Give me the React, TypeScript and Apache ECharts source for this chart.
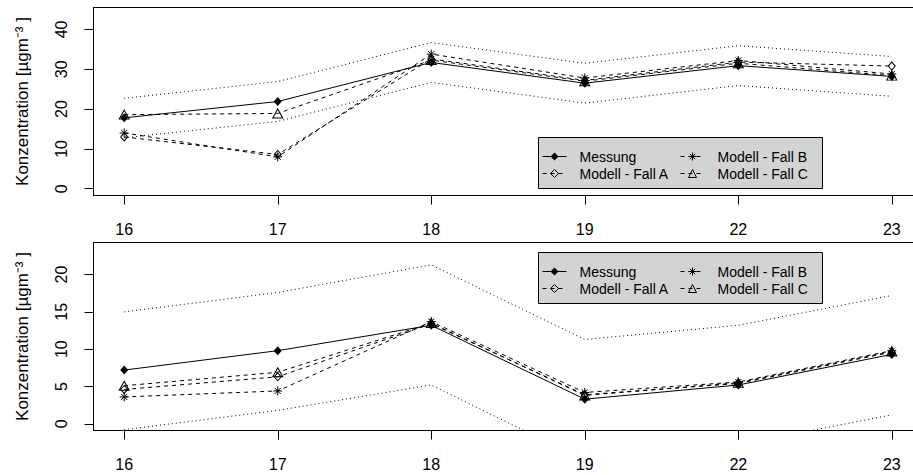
import React, { useEffect, useRef } from 'react';
import * as echarts from 'echarts';

// ---- data ----
const categories = ['16', '17', '18', '19', '22', '23'];
const xPositions = [1, 2, 3, 4, 5, 6];

const topMessung = [17.8, 21.9, 31.7, 26.5, 30.9, 28.2];
const topFallA = [13.0, 8.6, 32.6, 27.2, 31.8, 30.8];
const topFallB = [14.0, 8.0, 33.8, 27.8, 32.2, 28.8];
const topFallC = [18.6, 18.9, 32.3, 27.0, 31.5, 28.4];
const topUpper = [22.7, 26.9, 36.7, 31.5, 35.9, 33.2];
const topLower = [12.8, 16.9, 26.7, 21.5, 25.9, 23.2];

const bottomMessung = [7.2, 9.8, 13.2, 3.3, 5.2, 9.3];
const bottomFallA = [4.6, 6.3, 13.4, 3.9, 5.4, 9.6];
const bottomFallB = [3.6, 4.4, 13.7, 4.2, 5.6, 9.8];
const bottomFallC = [5.1, 6.9, 13.5, 3.8, 5.5, 9.7];
const bottomUpper = [15.0, 17.6, 21.3, 11.3, 13.2, 17.2];
const bottomLower = [-0.8, 1.8, 5.2, -4.9, -2.8, 1.2];

const topTicks = [0, 10, 20, 30, 40];
const bottomTicks = [0, 5, 10, 15, 20];

const seriesNames = ['Messung', 'Modell - Fall A', 'Modell - Fall B', 'Modell - Fall C'];
const yTitle = 'Konzentration [µgm⁻³ ]';

const FONT = "'Liberation Sans', Arial, Helvetica, sans-serif";
const ASTERISK = 'path://M5,0L5,10M0,5L10,5M1.6,1.6L8.4,8.4M1.6,8.4L8.4,1.6';

const pts = (vals: number[]) => vals.map((v, i) => [xPositions[i], v]);

function markerSeries(kind: number, vals: number[], gi: number) {
  const base: any = {
    type: 'line',
    name: seriesNames[kind],
    xAxisIndex: gi,
    yAxisIndex: gi,
    data: pts(vals),
    silent: true,
    clip: true,
    showSymbol: true,
    lineStyle: { color: '#000', width: 1, type: kind === 0 ? 'solid' : [4, 4] },
  };
  if (kind === 0) {
    base.symbol = 'diamond';
    base.symbolSize = [8, 9];
    base.itemStyle = { color: '#000' };
  } else if (kind === 1) {
    base.symbol = 'diamond';
    base.symbolSize = [7, 8];
    base.itemStyle = { color: 'transparent', borderColor: '#000', borderWidth: 1 };
  } else if (kind === 2) {
    base.symbol = ASTERISK;
    base.symbolSize = 9;
    base.itemStyle = { color: '#000', borderColor: '#000', borderWidth: 1 };
  } else {
    base.symbol = 'triangle';
    base.symbolSize = [10, 9];
    base.itemStyle = { color: 'transparent', borderColor: '#000', borderWidth: 1 };
  }
  return base;
}

function dottedSeries(vals: number[], gi: number) {
  return {
    type: 'line',
    name: 'band',
    xAxisIndex: gi,
    yAxisIndex: gi,
    data: pts(vals),
    silent: true,
    clip: true,
    symbol: 'none',
    lineStyle: { color: '#000', width: 1, type: [1, 3] },
  };
}

// x-axis tick marks, placed through the axis scale (api.coord)
function xTickSeries(gi: number) {
  return {
    type: 'custom',
    name: 'xticks',
    xAxisIndex: gi,
    yAxisIndex: gi,
    silent: true,
    clip: false,
    z: 5,
    data: xPositions.map((v) => [v, 0]),
    encode: { x: 0, y: 1 },
    renderItem: (params: any, api: any) => {
      const p = api.coord([api.value(0), api.value(1)]);
      const cs = params.coordSys;
      const x = Math.round(p[0]) + 0.5;
      const y = cs.y + cs.height;
      return {
        type: 'line',
        shape: { x1: x, y1: y, x2: x, y2: y + 9 },
        style: { stroke: '#000', lineWidth: 1 },
      };
    },
  };
}

function xAxisCfg(gi: number) {
  return {
    type: 'value',
    gridIndex: gi,
    min: 0.8,
    max: 6.2,
    axisLine: { show: true, onZero: false, lineStyle: { color: '#000', width: 1 } },
    splitLine: { show: false },
    axisTick: { show: false },
    axisLabel: {
      show: true,
      customValues: [...xPositions],
      formatter: (v: number) => categories[Math.round(v) - 1] ?? '',
      margin: 26,
      color: '#000',
      fontFamily: FONT,
      fontSize: 16,
    },
  };
}

function yAxisCfg(gi: number, min: number, max: number, ticks: number[]) {
  return {
    type: 'value',
    gridIndex: gi,
    min,
    max,
    axisLine: { show: true, onZero: false, lineStyle: { color: '#000', width: 1 } },
    splitLine: { show: false },
    axisTick: { show: true, length: 9, customValues: [...ticks], lineStyle: { color: '#000', width: 1 } },
    axisLabel: {
      show: true,
      customValues: [...ticks],
      rotate: 90,
      margin: 24,
      color: '#000',
      fontFamily: FONT,
      fontSize: 16,
    },
    name: yTitle,
    nameLocation: 'middle',
    nameGap: 63,
    nameRotate: 90,
    nameTextStyle: { color: '#000', fontFamily: FONT, fontSize: 17 },
  };
}

function legendCfg(left: number, top: number, names: string[]) {
  return {
    show: true,
    left,
    top,
    orient: 'vertical',
    data: names,
    padding: 0,
    itemGap: 1,
    itemWidth: 24,
    itemHeight: 10,
    selectedMode: false,
    z: 20,
    itemStyle: { borderWidth: 1 },
    lineStyle: { width: 1 },
    textStyle: { fontFamily: FONT, fontSize: 14, color: '#000', lineHeight: 16, padding: [0, 0, 0, 8] },
  };
}

export default function App() {
  const ref = useRef<HTMLDivElement>(null);
  useEffect(() => {
    document.body.style.margin = '0';
    if (!ref.current) return;
    const chart = echarts.init(ref.current, undefined, { renderer: 'svg' });
    const gridBase = {
      show: true,
      borderColor: '#000',
      borderWidth: 1,
      backgroundColor: 'transparent',
      containLabel: false,
      outerBoundsMode: 'none',
    };
    chart.setOption({
      animation: false,
      backgroundColor: '#fff',
      grid: [
        { ...gridBase, left: 93.5, top: 7.5, width: 829, height: 188 },
        { ...gridBase, left: 93.5, top: 242.5, width: 829, height: 188 },
      ],
      xAxis: [xAxisCfg(0), xAxisCfg(1)],
      yAxis: [yAxisCfg(0, -1.7, 45.5, topTicks), yAxisCfg(1, -0.9, 24.3, bottomTicks)],
      legend: [
        legendCfg(542, 148.5, [seriesNames[0], seriesNames[1]]),
        legendCfg(680, 148.5, [seriesNames[2], seriesNames[3]]),
        legendCfg(542, 263.5, [seriesNames[0], seriesNames[1]]),
        legendCfg(680, 263.5, [seriesNames[2], seriesNames[3]]),
      ],
      graphic: [
        { type: 'rect', z: 15, shape: { x: 538.5, y: 137.5, width: 284, height: 51 }, style: { fill: '#d3d3d3', stroke: '#000', lineWidth: 1 } },
        { type: 'rect', z: 15, shape: { x: 538.5, y: 252.5, width: 284, height: 51 }, style: { fill: '#d3d3d3', stroke: '#000', lineWidth: 1 } },
      ],
      series: [
        xTickSeries(0),
        xTickSeries(1),
        dottedSeries(topUpper, 0),
        dottedSeries(topLower, 0),
        markerSeries(0, topMessung, 0),
        markerSeries(1, topFallA, 0),
        markerSeries(2, topFallB, 0),
        markerSeries(3, topFallC, 0),
        dottedSeries(bottomUpper, 1),
        dottedSeries(bottomLower, 1),
        markerSeries(0, bottomMessung, 1),
        markerSeries(1, bottomFallA, 1),
        markerSeries(2, bottomFallB, 1),
        markerSeries(3, bottomFallC, 1),
      ],
    });
    return () => chart.dispose();
  }, []);
  return (
    <div
      ref={ref}
      style={{ position: 'absolute', left: 0, top: 0, width: 913, height: 475, overflow: 'hidden', background: '#fff' }}
    />
  );
}
